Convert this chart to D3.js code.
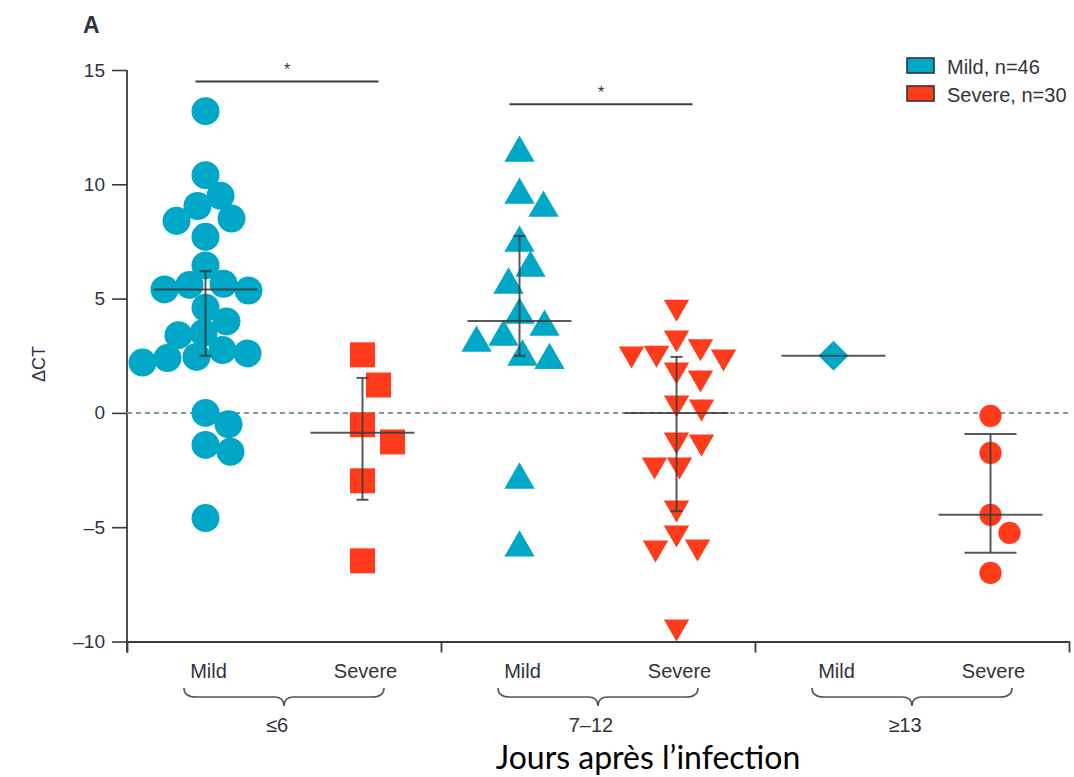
<!DOCTYPE html>
<html>
<head>
<meta charset="utf-8">
<script src="https://cdn.jsdelivr.net/npm/d3@7"></script>
<style>
  body { margin: 0; background: #fff; }
  svg { display: block; }
  text { font-family: "Liberation Sans", Arial, sans-serif; fill: #32323c; }
</style>
</head>
<body>
<svg id="svg-canvas" width="1074" height="777"></svg>
<script>
// ## DATA ##
const dayGroups = ["≤6", "7–12", "≥13"]
const severities = ["Mild", "Severe"]

const mild6 = [13.2, 10.4, 9.5, 9.05, 8.5, 8.4, 7.7, 6.45, 5.65, 5.6, 5.4, 5.35, 4.6, 4.0, 3.5, 3.4, 2.75, 2.6, 2.45, 2.4, 2.2, 0.0, -0.5, -1.4, -1.7, -4.6]
const severe6 = [2.54, 1.22, -0.52, -1.27, -2.97, -6.47]
const mild712 = [11.37, 9.53, 8.96, 7.43, 6.34, 5.6, 4.28, 3.76, 3.32, 3.06, 2.45, 2.3, -2.93, -5.9]
const severe712 = [4.63, 3.28, 2.9, 2.62, 2.58, 2.45, 1.88, 1.53, 0.44, 0.26, -1.18, -1.27, -2.27, -2.27, -4.15, -5.25, -5.86, -5.9, -9.36]
const mild13 = [2.5]
const severe13 = [-0.13, -1.75, -4.46, -5.25, -7.0]

// median and interquartile bars, same order as the series above
const medians = [5.4, -0.87, 4.02, 0.0, 2.5, -4.46]
const lowerQ = [2.5, -3.8, 2.5, -4.3, null, -6.12]
const upperQ = [6.2, 1.53, 7.74, 2.45, null, -0.92]

const yTicks = [15, 10, 5, 0, -5, -10]
const legendLabels = ["Mild, n=46", "Severe, n=30"]
const sigGroups = ["≤6", "7–12"]
const sigLevels = [14.5, 13.5]

const blue = "#00a7c7"
const red = "#ff3b1c"
const ink = "#3c3c3c"

// ## CANVAS ##
const svg = d3.select("#svg-canvas")
const plot = { left: 127, right: 1069, top: 70, bottom: 641.5 }

const y = d3.scaleLinear().domain([-10, 15]).range([plot.bottom, plot.top])
const xGroup = d3.scaleBand().domain(dayGroups).range([plot.left, plot.right])
const xSev = d3.scaleBand().domain(severities).range([0, xGroup.bandwidth()])
const xCenter = (day, sev) => xGroup(day) + xSev(sev) + xSev.bandwidth() / 2

const seriesValues = [mild6, severe6, mild712, severe712, mild13, severe13]
const series = seriesValues.map((values, i) => ({
  day: dayGroups[Math.floor(i / 2)],
  sev: severities[i % 2],
  values,
  median: medians[i],
  q1: lowerQ[i],
  q3: upperQ[i]
}))

// marker look per series
const markers = [
  { type: d3.symbolCircle, size: 616, rotate: 0, color: blue, gap: 25 },
  { type: d3.symbolSquare, size: 625, rotate: 0, color: red, gap: 34 },
  { type: d3.symbolTriangle, size: 400, rotate: 0, color: blue, gap: 27 },
  { type: d3.symbolTriangle, size: 280, rotate: 180, color: red, gap: 25 },
  { type: d3.symbolSquare, size: 450, rotate: 45, color: blue, gap: 22 },
  { type: d3.symbolCircle, size: 390, rotate: 0, color: red, gap: 26 }
]

// simple greedy dodge so markers spread sideways like a dot plot
const dodge = (values, minDist) => {
  const placed = []
  return values.map(v => {
    const py = y(v)
    let dx = 0
    for (let k = 0; k < 300; k++) {
      const cand = (k % 2 === 1 ? 1 : -1) * Math.ceil(k / 2)
      const ok = placed.every(p => (p.dx - cand) ** 2 + (p.py - py) ** 2 >= minDist ** 2)
      if (ok) { dx = cand; break }
    }
    placed.push({ dx, py })
    return dx
  })
}

// ## AXES ##
const yAxis = d3.axisLeft(y)
  .tickValues(yTicks)
  .tickSize(15)
  .tickSizeOuter(0)
  .tickPadding(7)
  .tickFormat(d => d < 0 ? "–" + Math.abs(d) : d)

const gy = svg.append("g")
  .attr("transform", `translate(${plot.left},0)`)
  .call(yAxis)
gy.select(".domain").remove()
gy.selectAll(".tick line").attr("stroke", ink).attr("stroke-width", 1.6)
gy.selectAll(".tick text")
  .style("font-size", "19px")
  .style("font-family", "'Liberation Sans', Arial, sans-serif")
  .attr("fill", "#32323c")

svg.append("line")
  .attr("x1", plot.left).attr("x2", plot.left)
  .attr("y1", y(15)).attr("y2", plot.bottom + 11)
  .attr("stroke", ink).attr("stroke-width", 1.8)

const xAxis = d3.axisBottom(d3.scaleLinear().domain([0, 3]).range([plot.left, plot.right]))
  .tickValues([0, 1, 2, 3])
  .tickSize(11)
  .tickSizeOuter(0)
  .tickFormat("")

const gx = svg.append("g")
  .attr("transform", `translate(0,${plot.bottom})`)
  .call(xAxis)
gx.select(".domain").attr("stroke", ink).attr("stroke-width", 1.8)
gx.selectAll(".tick line").attr("stroke", ink).attr("stroke-width", 1.8)

// zero reference line
svg.append("line")
  .attr("x1", plot.left).attr("x2", plot.right)
  .attr("y1", y(0)).attr("y2", y(0))
  .attr("stroke", "#7d9aa3")
  .attr("stroke-width", 2)
  .attr("stroke-dasharray", "5,4")

// ## POINTS ##
series.forEach((s, i) => {
  const m = markers[i]
  const offsets = dodge(s.values, m.gap)
  const cx = xCenter(s.day, s.sev)
  svg.append("g")
    .selectAll("path")
    .data(s.values)
    .enter().append("path")
    .attr("d", d3.symbol().type(m.type).size(m.size))
    .attr("transform", (d, j) => `translate(${cx + offsets[j]},${y(d)}) rotate(${m.rotate})`)
    .attr("fill", m.color)
})

// ## MEDIAN + IQR ##
series.forEach((s, i) => {
  const cx = xCenter(s.day, s.sev)
  const capHalf = i === 5 ? 26 : 6
  const g = svg.append("g")
    .attr("stroke", ink)
    .attr("stroke-width", 2)
    .attr("stroke-opacity", 0.85)
  g.append("line")
    .attr("x1", cx - 52).attr("x2", cx + 52)
    .attr("y1", y(s.median)).attr("y2", y(s.median))
  if (s.q1 !== null) {
    g.append("line")
      .attr("x1", cx).attr("x2", cx)
      .attr("y1", y(s.q1)).attr("y2", y(s.q3))
    g.selectAll(".cap")
      .data([s.q1, s.q3])
      .enter().append("line")
      .attr("x1", cx - capHalf).attr("x2", cx + capHalf)
      .attr("y1", d => y(d)).attr("y2", d => y(d))
  }
})

// ## SIGNIFICANCE BARS ##
sigGroups.forEach((day, i) => {
  const x1 = xCenter(day, "Mild") - 10
  const x2 = xCenter(day, "Severe") + 16
  svg.append("line")
    .attr("x1", x1).attr("x2", x2)
    .attr("y1", y(sigLevels[i])).attr("y2", y(sigLevels[i]))
    .attr("stroke", ink).attr("stroke-width", 2)
  svg.append("text")
    .attr("x", (x1 + x2) / 2)
    .attr("y", y(sigLevels[i]) - 6)
    .attr("text-anchor", "middle")
    .style("font-size", "16px")
    .text("*")
})

// ## CATEGORY LABELS + BRACES ##
dayGroups.forEach(day => {
  severities.forEach(sev => {
    svg.append("text")
      .attr("x", xCenter(day, sev) + 3)
      .attr("y", 678)
      .attr("text-anchor", "middle")
      .style("font-size", "20px")
      .text(sev)
  })
  const mid = xGroup(day) + xGroup.bandwidth() / 2
  const a = mid - 100, b = mid + 100
  const top = 688, bar = 697, tip = 706
  svg.append("path")
    .attr("d", `M${a},${top} Q${a},${bar} ${a + 12},${bar} L${mid - 10},${bar} Q${mid},${bar} ${mid},${tip} Q${mid},${bar} ${mid + 10},${bar} L${b - 12},${bar} Q${b},${bar} ${b},${top}`)
    .attr("fill", "none")
    .attr("stroke", "#555")
    .attr("stroke-width", 1.6)
  svg.append("text")
    .attr("x", mid - 7)
    .attr("y", 732)
    .attr("text-anchor", "middle")
    .style("font-size", "20px")
    .text(day)
})

svg.append("text")
  .attr("x", 648)
  .attr("y", 769)
  .attr("text-anchor", "middle")
  .style("font-family", "Lato, 'Open Sans', sans-serif")
  .style("font-size", "32px")
  .style("fill", "#000")
  .text("Jours après l’infection")

// ## Y LABEL + PANEL LETTER ##
svg.append("text")
  .attr("transform", "translate(45,364) rotate(-90)")
  .attr("text-anchor", "middle")
  .style("font-size", "18px")
  .text("ΔCT")

svg.append("text")
  .attr("x", 83)
  .attr("y", 33)
  .style("font-size", "23px")
  .style("font-weight", "bold")
  .text("A")

// ## LEGEND ##
const legend = svg.append("g").attr("transform", "translate(907,58)")
legend.selectAll("rect")
  .data(legendLabels)
  .enter().append("rect")
  .attr("x", 0)
  .attr("y", (d, i) => i * 28)
  .attr("width", 27)
  .attr("height", 15)
  .attr("fill", (d, i) => i === 0 ? blue : red)
  .attr("stroke", "#333")
  .attr("stroke-width", 1.6)
legend.selectAll("text")
  .data(legendLabels)
  .enter().append("text")
  .attr("x", 40)
  .attr("y", (d, i) => 16 + i * 28)
  .style("font-size", "20px")
  .text(d => d)
</script>
</body>
</html>
